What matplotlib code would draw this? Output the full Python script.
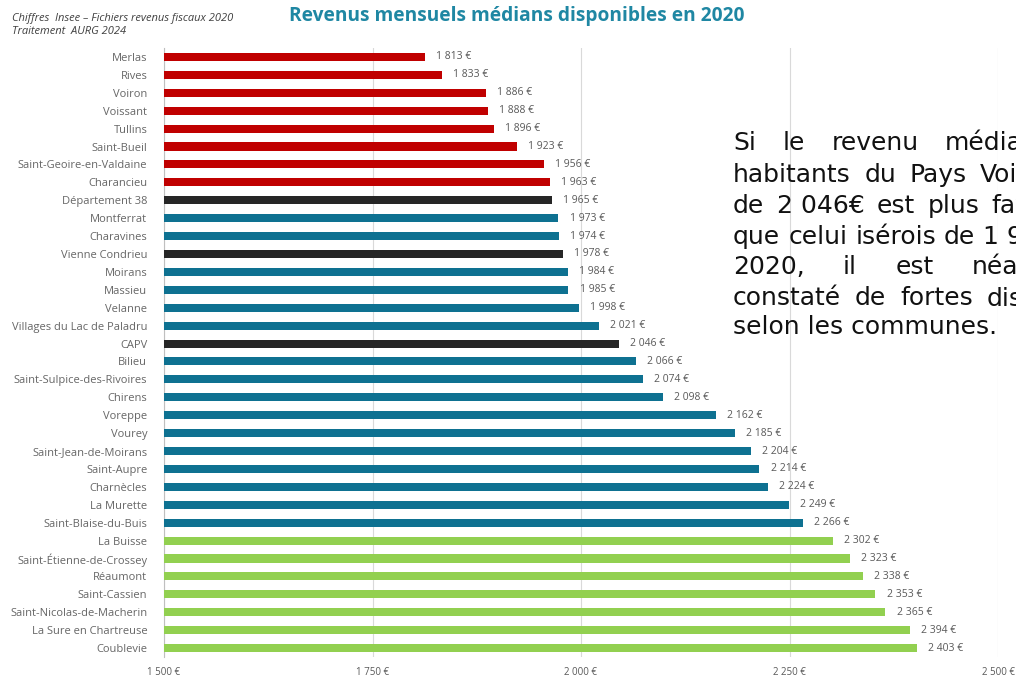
import matplotlib
matplotlib.use("Agg")
import matplotlib.pyplot as plt
from matplotlib import font_manager

communes = [
    "Merlas", "Rives", "Voiron", "Voissant", "Tullins", "Saint-Bueil",
    "Saint-Geoire-en-Valdaine", "Charancieu", "Département 38", "Montferrat",
    "Charavines", "Vienne Condrieu", "Moirans", "Massieu", "Velanne",
    "Villages du Lac de Paladru", "CAPV", "Bilieu", "Saint-Sulpice-des-Rivoires",
    "Chirens", "Voreppe", "Vourey", "Saint-Jean-de-Moirans", "Saint-Aupre",
    "Charnècles", "La Murette", "Saint-Blaise-du-Buis", "La Buisse",
    "Saint-Étienne-de-Crossey", "Réaumont", "Saint-Cassien",
    "Saint-Nicolas-de-Macherin", "La Sure en Chartreuse", "Coublevie",
]
revenus = [
    1813, 1833, 1886, 1888, 1896, 1923, 1956, 1963, 1965, 1973,
    1974, 1978, 1984, 1985, 1998, 2021, 2046, 2066, 2074, 2098,
    2162, 2185, 2204, 2214, 2224, 2249, 2266, 2302, 2323, 2338,
    2353, 2365, 2394, 2403,
]
# groupe : r = sous la moyenne, k = référence, b = moyen, g = au-dessus
groupes = list("rrrrrrrrkbbkbbbbkbbbbbbbbbbggggggg")
couleurs = {"r": "#C00000", "k": "#262626", "b": "#0E7191", "g": "#92D050"}

x_ticks = [1500, 1750, 2000, 2250, 2500]

texte_droite = [
    "Si le revenu médian des",
    "habitants du Pays Voironnais",
    "de 2\u00a0046€ est plus favorable",
    "que celui isérois de 1\u00a0965€ en",
    "2020, il est néanmoins",
    "constaté de fortes disparités",
    "selon les communes.",
]

noms = {f.name for f in font_manager.fontManager.ttflist}
police_etroite = "Liberation Sans Narrow" if "Liberation Sans Narrow" in noms else "Open Sans"


def euro(v):
    s = f"{v:,}".replace(",", " ")
    return s + " €"


W, H = 1016, 683
fig = plt.figure(figsize=(W / 100, H / 100), dpi=100)
fig.patch.set_facecolor("white")

ax = fig.add_axes([164 / W, 1 - 657 / H, (998 - 164) / W, 609 / H])
y = list(range(len(communes)))
ax.barh(y, [v - 1500 for v in revenus], left=1500, height=0.45,
        color=[couleurs[g] for g in groupes], zorder=3)

for yi, v in zip(y, revenus):
    ax.annotate(euro(v), (v, yi), xytext=(8, 0), textcoords="offset points",
                va="center", ha="left", fontsize=7.5, color="#595959",
                family=police_etroite)

ax.set_xlim(1500, 2500)
ax.set_ylim(len(communes) - 0.5, -0.5)
ax.set_yticks(y)
ax.set_yticklabels(communes, fontsize=8, color="#666666", family=police_etroite)
ax.set_xticks(x_ticks)
ax.set_xticklabels([euro(t) for t in x_ticks], fontsize=7, color="#595959",
                   family=police_etroite)
ax.tick_params(length=0)
ax.tick_params(axis="y", pad=12)
ax.tick_params(axis="x", pad=7)
ax.grid(axis="x", color="#D9D9D9", linewidth=0.8, zorder=0)
for side in ["top", "right", "bottom"]:
    ax.spines[side].set_visible(False)
ax.spines["left"].set_color("#BFBFBF")
ax.spines["left"].set_linewidth(0.8)

fig.text(517 / W, 1 - 16 / H, "Revenus mensuels médians disponibles en 2020",
         ha="center", va="center", fontsize=13.8, fontweight="bold",
         color="#1F87A3", family="Open Sans")
fig.text(12 / W, 1 - 19 / H, "Chiffres  Insee – Fichiers revenus fiscaux 2020",
         ha="left", va="center", fontsize=8, style="italic",
         color="#404040", family=police_etroite)
fig.text(12 / W, 1 - 32 / H, "Traitement  AURG 2024",
         ha="left", va="center", fontsize=8, style="italic",
         color="#404040", family=police_etroite)

# paragraphe justifié à droite (coupé par le bord de l'image)
renderer = fig.canvas.get_renderer()
taille = 18
x0 = 733
y_lignes = [143, 175, 206, 237, 267, 298, 327]


def largeur(mot):
    t = fig.text(0, 0, mot, fontsize=taille, family="DejaVu Sans")
    w = t.get_window_extent(renderer).width
    t.remove()
    return w


largeur_totale = largeur(texte_droite[3])
for i, (ligne, yl) in enumerate(zip(texte_droite, y_lignes)):
    mots = ligne.split(" ")
    if i == len(texte_droite) - 1 or len(mots) == 1:
        fig.text(x0 / W, 1 - yl / H, ligne, fontsize=taille, family="DejaVu Sans",
                 va="center", ha="left", color="#111111")
        continue
    ws = [largeur(m) for m in mots]
    ecart = (largeur_totale - sum(ws)) / (len(mots) - 1)
    xc = x0
    for m, w in zip(mots, ws):
        fig.text(xc / W, 1 - yl / H, m, fontsize=taille, family="DejaVu Sans",
                 va="center", ha="left", color="#111111")
        xc += w + ecart

fig.savefig("out.png", dpi=100)
